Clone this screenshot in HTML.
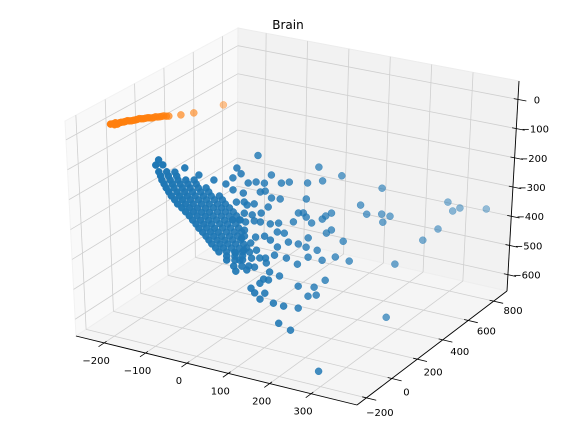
<!DOCTYPE html>
<html><head><meta charset="utf-8"><title>Brain</title>
<style>
html,body{margin:0;padding:0;background:#fff;}
svg{display:block;font-family:"DejaVu Sans","Liberation Sans",sans-serif;}
</style></head>
<body>
<svg id="chart" width="576" height="432" viewBox="0 0 576 432" xmlns="http://www.w3.org/2000/svg">
<text x="288" y="29" text-anchor="middle" font-size="12" fill="#000">Brain</text>
<g id="panes"></g>
<g id="grid"></g>
<g id="axes"></g>
<g id="pts"></g>
</svg>
<script>
const xTicks = [-200, -100, 0, 100, 200, 300];
const yTicks = [-200, 0, 200, 400, 600, 800];
const zTicks = [-600, -500, -400, -300, -200, -100, 0];
const xRange = [-268, 411];
const yRange = [-274, 905];
const zRange = [-656, 63];

const bluePoints = [
[-263,316,-248],[-246,316,-242],
[-256,316,-269],[-237,316,-263],[-217,316,-258],
[-252,316,-282],[-233,316,-276],[-213,316,-270],
[-249,316,-295],[-229,316,-289],[-210,316,-283],[-191,316,-277],[-171,316,-271],
[-244,316,-307],[-224,316,-301],[-205,316,-295],[-186,316,-289],[-166,316,-283],
[-239,316,-319],[-220,316,-313],[-200,316,-307],[-181,316,-301],[-161,316,-295],[-142,316,-289],
[-233,316,-331],[-213,316,-325],[-194,316,-319],[-175,316,-313],[-155,316,-307],[-136,316,-301],
[-227,316,-343],[-207,316,-337],[-188,316,-331],[-169,316,-325],[-149,316,-319],[-130,316,-313],[-110,316,-307],
[-219,316,-354],[-200,316,-348],[-181,316,-342],[-161,316,-336],[-142,316,-330],[-122,316,-324],[-103,316,-318],
[-212,316,-366],[-193,316,-360],[-174,316,-354],[-154,316,-348],[-135,316,-342],[-115,316,-336],[-96,316,-330],
[-202,316,-376],[-183,316,-370],[-164,316,-365],[-144,316,-359],[-125,316,-352],[-105,316,-346],[-86,316,-340],
[-193,316,-387],[-174,316,-381],[-154,316,-376],[-135,316,-370],[-115,316,-363],[-96,316,-357],[-77,316,-351],
[-184,316,-398],[-165,316,-392],[-145,316,-387],[-126,316,-380],[-106,316,-374],[-87,316,-368],[-69,316,-362],
[-176,316,-410],[-157,316,-404],[-137,316,-398],[-118,316,-391],[-98,316,-386],[-79,316,-379],[-62,316,-374],
[-168,316,-421],[-149,316,-415],[-130,316,-409],[-110,316,-402],[-91,316,-397],[-71,316,-390],
[-161,316,-433],[-142,316,-426],[-123,316,-421],[-103,316,-414],[-84,316,-408],[-64,316,-402],
[-152,316,-444],[-133,316,-437],[-114,316,-432],[-94,316,-425],[-75,316,-419],[-57,316,-413],
[-144,316,-455],[-125,316,-449],[-106,316,-443],[-86,316,-436],[-67,316,-430],[-50,316,-425],
[-137,316,-466],[-117,316,-460],[-98,316,-454],[-79,316,-447],[-59,316,-441],
[-130,316,-477],[-110,316,-471],[-91,316,-465],[-72,316,-459],[-52,316,-453],
[-121,316,-488],[-102,316,-482],[-82,316,-476],[-63,316,-470],[-45,316,-464],
[-113,316,-499],[-94,316,-493],[-74,316,-487],[-55,316,-481],[-38,316,-476],
[-94,316,-507],[-74,316,-501],[-55,316,-494],
[-94,316,-521],[-74,316,-515],[-55,316,-508],
[-77,316,-536],[-57,316,-530],[-40,316,-524],
[-193,316,-236],[-159,316,-250],[-123,316,-256],[-256,316,-228],
[-16,316,-140],[130,316,-136],[185,316,-149],[139,316,-180],[282,316,-162],[231,316,-234],
[246,316,-260],[282,316,-249],[302,316,-250],[285,316,-275],[440,316,-162],[452,316,-188],
[469,316,-173],[532,316,-158],[418,316,-258],[382,316,-306],[316,316,-406],[297,316,-590],
[132,316,-825],[190,316,-368],[205,316,-430],[171,316,-427],[147,316,-513],[62,316,-709],
[33,316,-695],[81,316,-628],[45,316,-633],[20,316,-631],[-13,316,-628],[-1,316,-604],
[-35,316,-598],[-26,316,-611],[81,316,-554],[105,316,-580],[125,316,-570],[120,316,-545],
[8,316,-556],[35,316,-534],[-13,316,-574],[-4,316,-557],[105,316,-448],[79,316,-480],
[52,316,-468],[23,316,-467],[3,316,-500],[-33,316,-495],[-13,316,-488],[139,316,-448],
[100,316,-416],[81,316,-411],[127,316,-418],[149,316,-353],[161,316,-339],[105,316,-383],
[57,316,-412],[30,316,-437],[13,316,-419],[-1,316,-410],[-23,316,-420],[47,316,-385],
[30,316,-386],[13,316,-364],[-11,316,-365],[-26,316,-366],[-47,316,-376],[33,316,-355],
[69,316,-340],[113,316,-330],[100,316,-314],[81,316,-306],[93,316,-302],[147,316,-296],
[161,316,-282],[139,316,-309],[8,316,-308],[-9,316,-334],[-31,316,-347],[-43,316,-317],
[-26,316,-308],[16,316,-275],[37,316,-272],[1,316,-256],[-11,316,-263],[40,316,-217],
[59,316,-208],[16,316,-197],[-1,316,-230],[-21,316,-232],[-40,316,-241],[103,316,-198],
[100,316,-253],[-57,316,-215],[-67,316,-198],[-77,316,-235],[-77,316,-276],[-94,316,-261],
[-52,316,-279],[-50,316,-309],[-69,316,-315],[-50,316,-347],[-60,316,-373],[-50,316,-405],
[-79,316,-379],[-57,316,-434],[-35,316,-444],[-52,316,-474],[-21,316,-464],[-72,316,-490],
[-72,316,-552],[-45,316,-539],[-62,316,-511],[11,316,-528],[-26,316,-523],[1,316,-484]
];

const orangePoints = [
[-370,316,-139],[-365,316,-137],[-360,316,-138],[-358,316,-131],[-353,316,-134],[-348,316,-128],
[-344,316,-125],[-338,316,-122],[-334,316,-119],[-329,316,-115],[-324,316,-114],[-319,316,-112],
[-314,316,-109],[-309,316,-106],[-305,316,-103],[-300,316,-99],[-295,316,-98],[-290,316,-96],
[-285,316,-93],[-280,316,-90],[-276,316,-89],[-271,316,-88],[-266,316,-85],[-261,316,-81],
[-256,316,-80],[-251,316,-78],[-246,316,-75],[-241,316,-72],[-235,316,-71],[-229,316,-69],
[-200,316,-56],[-169,316,-40],[-98,316,8]
];

const NS = "http://www.w3.org/2000/svg";
const CB = {L:[76,336], F:[357,405], B:[237,230], R:[507,291]};
const CT = {L:[65,121], F:[356,183], B:[238,28], R:[519,81]};
function bil(C, a, b) {
  const x = (1-a)*(1-b)*C.L[0] + a*(1-b)*C.F[0] + (1-a)*b*C.B[0] + a*b*C.R[0];
  const y = (1-a)*(1-b)*C.L[1] + a*(1-b)*C.F[1] + (1-a)*b*C.B[1] + a*b*C.R[1];
  return [x, y];
}
function projF(a, b, c) {
  const p0 = bil(CB, a, b), p1 = bil(CT, a, b);
  return [p0[0] + c*(p1[0]-p0[0]), p0[1] + c*(p1[1]-p0[1])];
}
function fx(x){return (x-xRange[0])/(xRange[1]-xRange[0]);}
function fy(y){return (y-yRange[0])/(yRange[1]-yRange[0]);}
function fz(z){return (z-zRange[0])/(zRange[1]-zRange[0]);}
function proj(x,y,z){return projF(fx(x),fy(y),fz(z));}

function mk(tag, attrs, parent) {
  const el = document.createElementNS(NS, tag);
  for (const k in attrs) el.setAttribute(k, attrs[k]);
  parent.appendChild(el);
  return el;
}
function poly(pts){return pts.map(p=>p[0].toFixed(1)+","+p[1].toFixed(1)).join(" ");}

const gP = document.getElementById("panes");
const gG = document.getElementById("grid");
const gA = document.getElementById("axes");
const gS = document.getElementById("pts");

let el;
el = mk("polygon", {points: poly([projF(0,0,0),projF(0,1,0),projF(0,1,1),projF(0,0,1)]), fill:"#f9f9f9", stroke:"#f2f2f2"}, gP);


el = mk("polygon", {points: poly([projF(0,1,0),projF(1,1,0),projF(1,1,1),projF(0,1,1)]), fill:"#f2f2f2", stroke:"#ececec"}, gP);


el = mk("polygon", {points: poly([projF(0,0,0),projF(1,0,0),projF(1,1,0),projF(0,1,0)]), fill:"#f5f5f5", stroke:"#eeeeee"}, gP);



function gline(p, q, name) {
  const l = mk("line", {x1:p[0],y1:p[1],x2:q[0],y2:q[1],stroke:"#cfcfcf","stroke-width":0.8}, gG);
  
  
}
xTicks.forEach(t => {
  const a = fx(t);
  gline(projF(a,0,0), projF(a,1,0), 'gridline-floor-x');
  gline(projF(a,1,0), projF(a,1,1), 'gridline-back-x');
});
yTicks.forEach(t => {
  const b = fy(t);
  gline(projF(0,b,0), projF(1,b,0), 'gridline-floor-y');
  gline(projF(0,b,0), projF(0,b,1), 'gridline-left-y');
});
zTicks.forEach(t => {
  const c = fz(t);
  gline(projF(0,0,c), projF(0,1,c), 'gridline-left-z');
  gline(projF(0,1,c), projF(1,1,c), 'gridline-back-z');
});

function aline(p, q, name, w) {
  const l = mk("line", {x1:p[0],y1:p[1],x2:q[0],y2:q[1],stroke:"#000","stroke-width":w}, gA);
  
  
}
function label(x, y, s, name) {
  const t = mk("text", {x:x, y:y, "text-anchor":"middle", "dominant-baseline":"middle", "font-size":10, fill:"#000"}, gA);
  t.textContent = s;
  
  
}
function fmt(v){return v < 0 ? "\u2212" + Math.abs(v) : String(v);}

aline(projF(0,0,0), projF(1,0,0), 'x-axis-line', 0.9);
aline(projF(1,0,0), projF(1,1,0), 'y-axis-line', 0.9);
aline(projF(1,1,0), projF(1,1,1), 'z-axis-line', 0.9);

xTicks.forEach(t => {
  const a = fx(t);
  aline(projF(a,0.015,0), projF(a,-0.035,0), 'x-tick', 0.8);
  const p = projF(a,0,0);
  label(p[0]-8, p[1]+18, fmt(t), 'x-tick-label');
});
yTicks.forEach(t => {
  const b = fy(t);
  aline(projF(0.985,b,0), projF(1.035,b,0), 'y-tick', 0.8);
  const p = projF(1,b,0);
  label(p[0]+13+7*b, p[1]+15.5-6*b, fmt(t), 'y-tick-label');
});
zTicks.forEach(t => {
  const c = fz(t);
  aline(projF(0.985,1,c), projF(1.03,1,c), 'z-tick', 0.8);
  const p = projF(1,1,c);
  label(p[0]+19, p[1]+1, fmt(t), 'z-tick-label');
});

function drawSeries(points, color, name) {
  const items = points.map(p => {
    const a = fx(p[0]), c = fz(p[2]);
    return {s: proj(p[0],p[1],p[2]), d: a + 0.3*c};
  });
  let dmin = Infinity, dmax = -Infinity;
  items.forEach(it => { dmin = Math.min(dmin, it.d); dmax = Math.max(dmax, it.d); });
  items.sort((u,v) => v.d - u.d);
  items.forEach(it => {
    const n = dmax > dmin ? (it.d - dmin)/(dmax - dmin) : 0;
    const al = 1 - 0.55*n;
    const c = mk("circle", {cx: it.s[0].toFixed(1), cy: it.s[1].toFixed(1), r: 3.5, fill: color, "fill-opacity": al.toFixed(2), stroke: color, "stroke-opacity": al.toFixed(2), "stroke-width": 0.5}, gS);
    
    
  });
}
drawSeries(bluePoints, "#1f77b4", "blue-point");
drawSeries(orangePoints, "#ff7f0e", "orange-point");
</script>
</body></html>
